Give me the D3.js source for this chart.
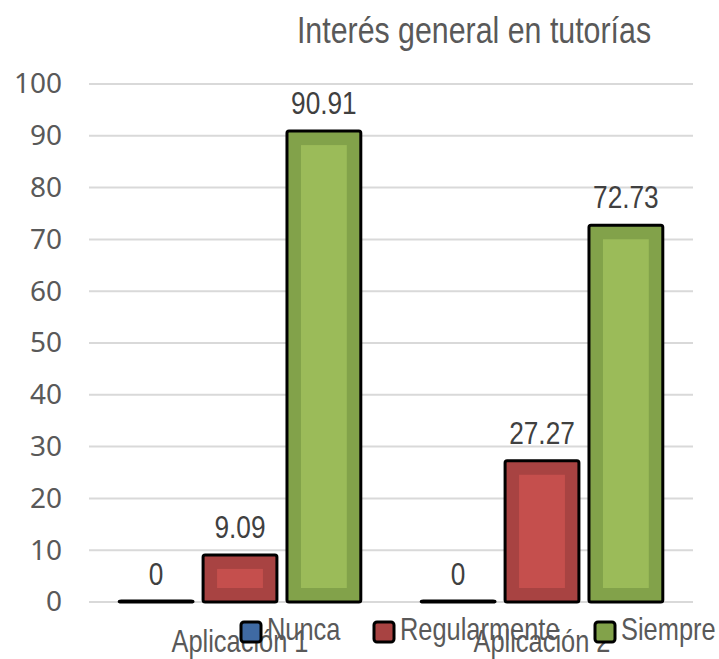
<!DOCTYPE html>
<meta charset="utf-8">
<style>
body {
  margin: 0;
  background: #fff;
}
text {
  font-family: "Liberation Sans", Arial, sans-serif;
}
.axis--y path, .axis--y line {
  display: none;
}
.axis--y text {
  font-family: "Noto Sans", "Open Sans", sans-serif;
  font-size: 28px;
  fill: #595959;
}
.grid line {
  stroke: #d9d9d9;
  stroke-width: 2;
}
</style>
<svg id="chart"></svg>
<script src="https://d3js.org/d3.v7.min.js"></script>
<script>

  // data
  const categories = ["Aplicación 1", "Aplicación 2"];
  const seriesNames = ["Nunca", "Regularmente", "Siempre"];
  const nunca = [0, 0];
  const regularmente = [9.09, 27.27];
  const siempre = [90.91, 72.73];
  const yTicks = [0, 10, 20, 30, 40, 50, 60, 70, 80, 90, 100];
  const title = "Interés general en tutorías";

  const seriesValues = [nunca, regularmente, siempre];
  const outerColors = ["#3f6aa3", "#a84342", "#82a24a"];
  const innerColors = ["#4f81bd", "#c54f4d", "#9bbb59"];

  // no narrow font installed, so squeeze the regular one
  const squeeze = 0.82;
  function narrow(sel, x, y) {
    sel.attr("transform", function(d, i) {
      let xx = typeof x === "function" ? x(d, i) : x;
      let yy = typeof y === "function" ? y(d, i) : y;
      return "translate(" + xx + "," + yy + ") scale(" + squeeze + ",1)";
    });
    return sel;
  }

  let width = 719, height = 659;

  let svg = d3.select("#chart")
    .attr("width", width)
    .attr("height", height);

  let margin = {top: 84, right: 26, bottom: 57, left: 89};
  let plotW = width - margin.left - margin.right,
      plotH = height - margin.top - margin.bottom;

  let x0 = d3.scaleBand()
    .domain(categories)
    .range([0, plotW])
    .paddingInner(0.2)
    .paddingOuter(0.1);

  let x1 = d3.scaleBand()
    .domain(seriesNames)
    .range([0, x0.bandwidth()])
    .paddingInner(0.12);

  let y = d3.scaleLinear()
    .domain([0, 100])
    .range([plotH, 0]);

  let g = svg.append("g")
    .attr("transform", "translate(" + margin.left + "," + margin.top + ")");

  // gridlines
  g.append("g")
    .attr("class", "grid")
    .selectAll("line")
    .data(yTicks)
    .enter()
    .append("line")
    .attr("x1", 0)
    .attr("x2", plotW)
    .attr("y1", d => y(d))
    .attr("y2", d => y(d));

  g.append("g")
    .attr("class", "axis axis--y")
    .attr("transform", "translate(-27,0)")
    .call(d3.axisLeft(y).tickValues(yTicks).tickSize(0).tickPadding(0));

  // flatten into bars
  let bars = [];
  categories.forEach((c, i) => {
    seriesNames.forEach((s, j) => {
      bars.push({cat: c, series: s, idx: j, value: seriesValues[j][i]});
    });
  });

  let groups = g.selectAll(".bar")
    .data(bars)
    .enter()
    .append("g")
    .attr("class", "bar")
    .attr("transform", d => "translate(" + (x0(d.cat) + x1(d.series)) + ",0)");

  groups.append("rect")
    .attr("x", 0)
    .attr("y", d => Math.min(y(d.value), plotH - 1))
    .attr("width", x1.bandwidth())
    .attr("height", d => Math.max(plotH - y(d.value), 1))
    .attr("rx", 2)
    .attr("fill", d => outerColors[d.idx])
    .attr("stroke", "#000")
    .attr("stroke-width", 3);

  // inner lighter panel (bevel look)
  let inset = 14;
  groups.filter(d => plotH - y(d.value) > inset * 2)
    .append("rect")
    .attr("x", inset)
    .attr("y", d => y(d.value) + inset)
    .attr("width", x1.bandwidth() - inset * 2)
    .attr("height", d => plotH - y(d.value) - inset * 2)
    .attr("fill", d => innerColors[d.idx]);

  groups.append("text")
    .call(narrow, x1.bandwidth() / 2, d => y(d.value) - 17)
    .attr("text-anchor", "middle")
    .style("font-size", "32px")
    .style("fill", "#404040")
    .text(d => d.value);

  // category labels
  g.selectAll(".cat")
    .data(categories)
    .enter()
    .append("text")
    .attr("class", "cat")
    .call(narrow, d => x0(d) + x0.bandwidth() / 2, plotH + 50)
    .attr("text-anchor", "middle")
    .style("font-size", "31px")
    .style("fill", "#595959")
    .text(d => d);

  // legend
  let legendX = [241, 374, 595];
  let legend = svg.selectAll(".legend")
    .data(seriesNames)
    .enter()
    .append("g")
    .attr("class", "legend")
    .attr("transform", (d, i) => "translate(" + legendX[i] + ",622)");

  legend.append("rect")
    .attr("width", 20)
    .attr("height", 20)
    .attr("rx", 3)
    .attr("fill", (d, i) => outerColors[i])
    .attr("stroke", "#000")
    .attr("stroke-width", 3);

  legend.append("text")
    .call(narrow, 26, 18)
    .style("font-size", "31px")
    .style("fill", "#595959")
    .text(d => d);

  svg.append("text")
    .call(narrow, 474, 43)
    .attr("text-anchor", "middle")
    .style("font-size", "37px")
    .style("fill", "#595959")
    .text(title);

</script>
